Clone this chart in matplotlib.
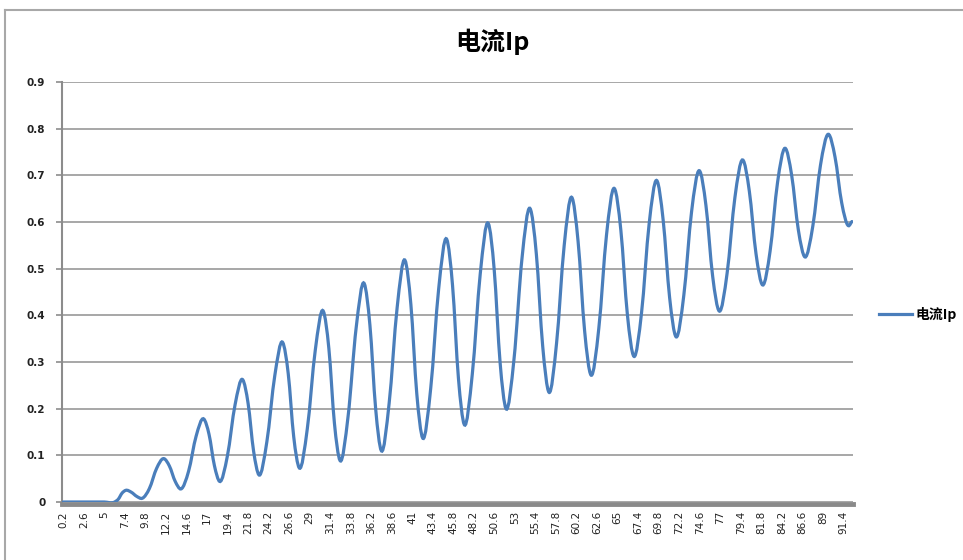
import numpy as np
import matplotlib
matplotlib.use('Agg')
import matplotlib.pyplot as plt
from matplotlib.path import Path
from matplotlib.patches import PathPatch
from matplotlib.lines import Line2D

# sampled points of the Ip curve (turning points plus flank points)
time_s = [0.2, 1.4, 2.6, 3.8, 5.0, 6.2,
          6.63, 7.07, 7.50, 8.15, 8.79, 9.44, 10.27, 11.11, 11.94, 12.61,
          13.29, 13.96, 14.85, 15.73, 16.62, 17.24, 17.87, 18.49, 19.39, 20.28,
          21.18, 21.81, 22.45, 23.08, 24.00, 24.93, 25.85, 26.50, 27.14, 27.79,
          28.73, 29.66, 30.60, 31.25, 31.90, 32.55, 33.50, 34.44, 35.39, 36.05,
          36.72, 37.38, 38.30, 39.23, 40.15, 40.84, 41.53, 42.22, 43.16, 44.09,
          45.03, 45.71, 46.40, 47.08, 48.02, 48.95, 49.89, 50.58, 51.27, 51.96,
          52.90, 53.83, 54.77, 55.51, 56.25, 56.99, 57.87, 58.76, 59.64, 60.39,
          61.15, 61.90, 62.81, 63.71, 64.62, 65.39, 66.15, 66.92, 67.81, 68.69,
          69.58, 70.33, 71.09, 71.84, 72.75, 73.65, 74.56, 75.34, 76.12, 76.90,
          77.81, 78.72, 79.63, 80.41, 81.19, 81.97, 82.84, 83.71, 84.58, 85.36,
          86.14, 86.92, 87.83, 88.73, 89.64, 90.43, 91.21, 92.00, 92.40]
current_ip = [0.0, 0.0, 0.0, 0.0, 0.0, 0.0,
              0.006, 0.019, 0.025, 0.021, 0.012, 0.008, 0.029, 0.072, 0.093, 0.077,
              0.044, 0.028, 0.066, 0.141, 0.178, 0.145, 0.078, 0.044, 0.099, 0.208,
              0.262, 0.211, 0.109, 0.058, 0.129, 0.271, 0.342, 0.275, 0.140, 0.073,
              0.157, 0.325, 0.409, 0.329, 0.169, 0.089, 0.184, 0.373, 0.468, 0.379,
              0.200, 0.110, 0.212, 0.416, 0.518, 0.423, 0.232, 0.137, 0.244, 0.457,
              0.563, 0.464, 0.265, 0.166, 0.274, 0.489, 0.597, 0.498, 0.299, 0.200,
              0.307, 0.522, 0.629, 0.531, 0.334, 0.235, 0.340, 0.549, 0.653, 0.558,
              0.367, 0.272, 0.372, 0.572, 0.672, 0.582, 0.402, 0.312, 0.406, 0.595,
              0.689, 0.605, 0.438, 0.354, 0.443, 0.621, 0.710, 0.635, 0.484, 0.409,
              0.490, 0.652, 0.733, 0.666, 0.532, 0.465, 0.538, 0.685, 0.758, 0.700,
              0.583, 0.525, 0.591, 0.722, 0.788, 0.739, 0.641, 0.592, 0.601]

x_labels = ['0.2', '2.6', '5', '7.4', '9.8', '12.2', '14.6', '17', '19.4', '21.8',
            '24.2', '26.6', '29', '31.4', '33.8', '36.2', '38.6', '41', '43.4',
            '45.8', '48.2', '50.6', '53', '55.4', '57.8', '60.2', '62.6', '65',
            '67.4', '69.8', '72.2', '74.6', '77', '79.4', '81.8', '84.2', '86.6',
            '89', '91.4']
y_labels = ['0', '0.1', '0.2', '0.3', '0.4', '0.5', '0.6', '0.7', '0.8', '0.9']

blue = '#4a7ebb'
cjk = ['Noto Sans CJK SC', 'DejaVu Sans']


def smooth_path(x, y):
    # cubic Hermite segments through the points, like a "smoothed line"
    x = np.asarray(x, float)
    y = np.asarray(y, float)
    m = np.gradient(y, x)
    verts = [(x[0], y[0])]
    codes = [Path.MOVETO]
    for i in range(len(x) - 1):
        h = x[i + 1] - x[i]
        verts += [(x[i] + h / 3, y[i] + m[i] * h / 3),
                  (x[i + 1] - h / 3, y[i + 1] - m[i + 1] * h / 3),
                  (x[i + 1], y[i + 1])]
        codes += [Path.CURVE4] * 3
    return Path(verts, codes)


fig = plt.figure(figsize=(9.63, 5.6), dpi=100)
ax = fig.add_axes([62 / 963, 58 / 560, 791 / 963, 420 / 560])

ax.add_patch(PathPatch(smooth_path(time_s, current_ip), fill=False,
                       edgecolor=blue, lw=2.3, capstyle='round', zorder=3))

ax.set_xlim(0.05, 92.53)
ax.set_ylim(0, 0.9)

ax.set_yticks([float(v) for v in y_labels])
ax.set_yticklabels(y_labels, fontweight='bold')
ax.set_xticks([float(v) for v in x_labels])
ax.set_xticklabels(x_labels, fontweight='bold')
ax.tick_params(axis='x', length=0, pad=5, labelrotation=90, labelsize=7.5,
               labelcolor='#222222')
ax.tick_params(axis='y', length=4, width=1.2, color='#8c8c8c', pad=8,
               labelsize=7.5, labelcolor='#222222')
for lbl in ax.get_xticklabels():
    lbl.set_verticalalignment('top')
    lbl.set_horizontalalignment('center')

ax.grid(axis='y', color='#a0a0a0', lw=1.3)
ax.set_axisbelow(True)
for s in ['top', 'right']:
    ax.spines[s].set_visible(False)
ax.spines['left'].set_color('#8c8c8c')
ax.spines['left'].set_linewidth(1.5)
ax.spines['bottom'].set_color('#8a8a8a')
ax.spines['bottom'].set_linewidth(3.5)
ax.spines['bottom'].set_position(('outward', 1.5))

handle = Line2D([], [], color=blue, lw=2.3)
ax.legend([handle], ['电流Ip'], loc='center left',
          bbox_to_anchor=(866 / 963, 1 - 314 / 560), bbox_transform=fig.transFigure,
          frameon=False, handlelength=2.4, handletextpad=0.25,
          prop={'family': cjk, 'size': 10, 'weight': 'bold'})

fig.text(492 / 963, 1 - 42 / 560, '电流Ip', ha='center', va='center',
         fontsize=18, fontweight='bold', family=cjk)

# chart frame edges
fig.add_artist(Line2D([5 / 963, 5 / 963], [0, 1 - 10 / 560],
                      transform=fig.transFigure, color='#a8a8a8', lw=1.5))
fig.add_artist(Line2D([5 / 963, 1], [1 - 10 / 560, 1 - 10 / 560],
                      transform=fig.transFigure, color='#a8a8a8', lw=1.5))

fig.savefig('out.png', dpi=100)
